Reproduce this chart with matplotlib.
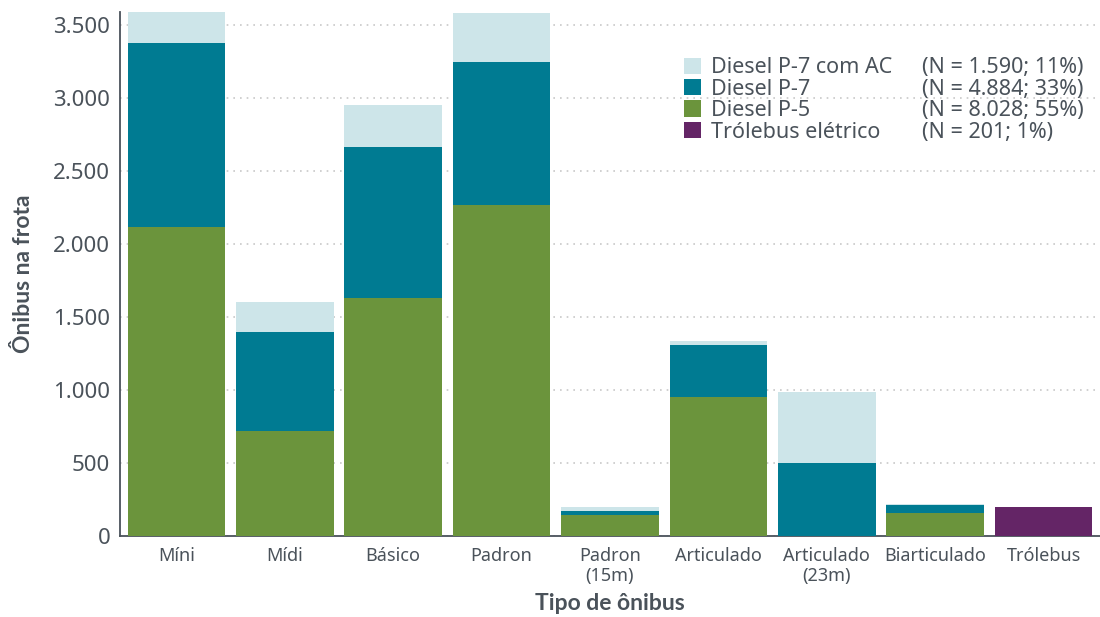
import numpy as np
import matplotlib.pyplot as plt

plt.rcParams['font.family'] = ['Noto Sans', 'DejaVu Sans']

# fleet by bus type, stacked by engine technology
categories = ['Míni', 'Mídi', 'Básico', 'Padron', 'Padron\n(15m)', 'Articulado',
              'Articulado\n(23m)', 'Biarticulado', 'Trólebus']
diesel_p5 = [2120, 720, 1630, 2265, 142, 952, 0, 157, 0]
diesel_p7 = [1255, 675, 1035, 980, 27, 355, 500, 53, 0]
diesel_p7_ac = [215, 210, 290, 335, 28, 27, 484, 6, 0]
trolleybus = [0, 0, 0, 0, 0, 0, 0, 0, 201]

series_names = ['Diesel P-7 com AC', 'Diesel P-7', 'Diesel P-5', 'Trólebus elétrico']
series_counts = ['(N = 1.590; 11%)', '(N = 4.884; 33%)', '(N = 8.028; 55%)', '(N = 201; 1%)']
colors = ['#cde5e9', '#007b92', '#6b943c', '#642566']
text_color = '#4a525a'

fig = plt.figure(figsize=(11, 6.17), dpi=100)
ax = fig.add_axes([120 / 1100, 1 - 536 / 617, 980 / 1100, (536 - 12) / 617])

x = np.arange(len(categories))
w = 0.9
p5 = np.array(diesel_p5)
p7 = np.array(diesel_p7)
ac = np.array(diesel_p7_ac)

b_tro = ax.bar(x, trolleybus, w, color=colors[3], zorder=3)
b_p5 = ax.bar(x, p5, w, color=colors[2], zorder=3)
b_p7 = ax.bar(x, p7, w, bottom=p5, color=colors[1], zorder=3)
b_ac = ax.bar(x, ac, w, bottom=p5 + p7, color=colors[0], zorder=3)

ax.set_xlim(-0.52, len(categories) - 0.48)
ax.set_ylim(0, 3590)
ax.set_yticks(np.arange(0, 3501, 500))
ax.set_yticklabels(['0', '500', '1.000', '1.500', '2.000', '2.500', '3.000', '3.500'])
ax.set_xticks(x)
ax.set_xticklabels(categories, linespacing=1.1)

ax.yaxis.grid(True, linestyle=(0, (1, 3)), color='#c8c8c8', linewidth=1.2, zorder=0)
ax.set_axisbelow(True)
for side in ['top', 'right']:
    ax.spines[side].set_visible(False)
for side in ['left', 'bottom']:
    ax.spines[side].set_color(text_color)
    ax.spines[side].set_linewidth(1.3)

ax.tick_params(axis='y', length=0, pad=7, labelsize=16, labelcolor=text_color)
ax.tick_params(axis='x', length=0, pad=8, labelsize=13, labelcolor=text_color)

ax.set_ylabel('Ônibus na frota', fontsize=16.5, fontweight='bold', family='Lato',
              color=text_color, labelpad=14)
ax.set_xlabel('Tipo de ônibus', fontsize=16.5, fontweight='bold', family='Lato',
              color=text_color, labelpad=6)

leg = ax.legend([b_ac, b_p7, b_p5, b_tro], series_names, loc='upper left',
                bbox_to_anchor=(0.567, 0.93), frameon=False, fontsize=15.5,
                handlelength=0.8, handleheight=0.8, handletextpad=0.45,
                labelspacing=0.02, borderaxespad=0)
for t in leg.get_texts():
    t.set_color(text_color)

# counts column next to the legend entries
fig.canvas.draw()
renderer = fig.canvas.get_renderer()
for t, label in zip(leg.get_texts(), series_counts):
    bb = t.get_window_extent(renderer)
    yc = (bb.y0 + bb.y1) / 2 / fig.bbox.height
    fig.text(922 / 1100, yc, label, fontsize=15.5, color=text_color, va='center', ha='left')

fig.savefig('out.png', dpi=100)
